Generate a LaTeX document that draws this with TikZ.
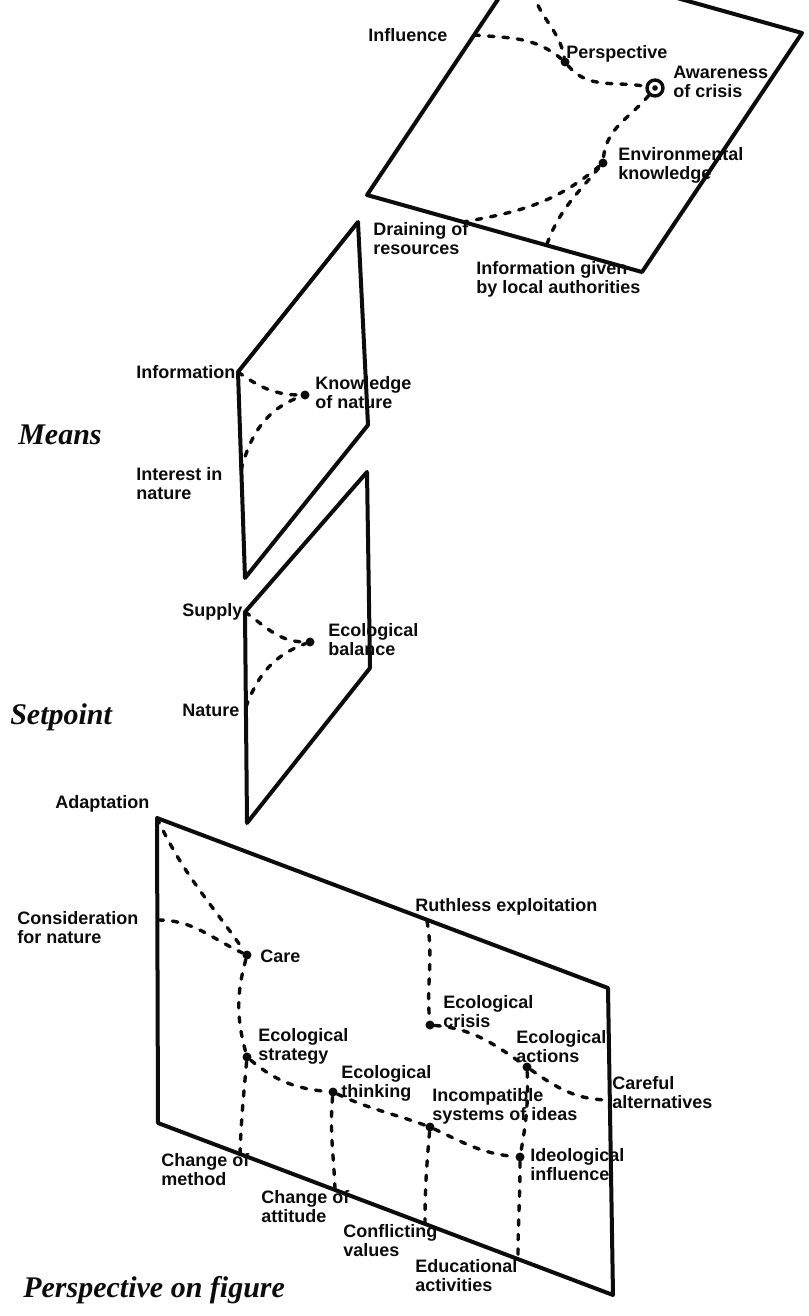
\documentclass[tikz,border=0pt]{standalone}
\usepackage{fontspec}
\setmainfont{Liberation Sans}
\newfontfamily\headfont{Liberation Serif}
\usepackage{tikz}
\definecolor{ink}{RGB}{12,12,12}

\begin{document}
\begin{tikzpicture}[x=1pt,y=-1pt,semithick]
    \tikzstyle{plane}=[draw=ink,line width=4pt,line join=round]
    \tikzstyle{link}=[draw=ink,line width=3.4pt,line cap=round,dash pattern=on 5.5pt off 9pt]
    \tikzstyle{factor}=[circle,fill=ink,inner sep=0pt,minimum size=9pt]
    \tikzstyle{ring}=[circle,draw=ink,line width=3.4pt,inner sep=0pt,minimum size=16pt]
    \tikzstyle{lbl}=[anchor=west,inner sep=0pt,align=left,text=ink,font=\fontsize{18}{19}\selectfont\bfseries]
    \tikzstyle{heading}=[anchor=west,inner sep=0pt,text=ink,font=\fontsize{30}{32}\selectfont\headfont\bfseries\itshape]

    \useasboundingbox (0,0) rectangle (808,1316);

    % top plane, cut off by the page edge
    \begin{scope}
    \clip (0,0) rectangle (808,1316);
    \draw[plane] (527,-44) -- (802,33) -- (642,272) -- (367,195) -- cycle;

    \coordinate (topend) at (533,-8);
    \coordinate (infl)   at (474,35);
    \coordinate (drain)  at (463,222);
    \coordinate (infog)  at (547,244);
    \node[factor] (persp) at (565,62)  {};
    \node[ring]   (aware) at (655,88)  {};
    \node[factor] (envk)  at (603,163) {};
    \fill[ink] (aware) circle (2.8);

    \path[link]
     (topend) edge[out=-75,in=100] (persp)
     (infl)   edge[out=-5,in=140]  (persp)
     (persp)  edge[out=-50,in=170] (aware)
     (aware)  edge[out=-130,in=85] (envk)
     (envk)   edge[out=-140,in=10] (drain)
     (infog)  edge[out=70,in=-130] (envk);
    \end{scope}

    \node[lbl] (inflL)  at (368,35)  {Influence};
    \node[lbl] (perspL) at (566,54)  {Perspective};
    \node[lbl] (awareL) at (673,82)  {Awareness\\of crisis};
    \node[lbl] (envkL)  at (618,165) {Environmental\\knowledge};
    \node[lbl] (drainL) at (373,239) {Draining of\\resources};
    \node[lbl] (infogL) at (476,279) {Information given\\by local authorities};

    % means plane
    \draw[plane] (238,372) -- (358,222) -- (368,425) -- (245,578) -- cycle;
    \coordinate (info)  at (238,372);
    \coordinate (inter) at (241,470);
    \node[factor] (know) at (305,395) {};
    \path[link]
     (info)  edge[out=-35,in=180] (know)
     (inter) edge[out=75,in=-160] (know);

    \node[lbl] (infoL)  at (136,372) {Information};
    \node[lbl] (knowL)  at (315,393) {Knowledge\\of nature};
    \node[lbl] (interL) at (136,484) {Interest in\\nature};
    \node[heading] (means) at (18,435) {Means};

    % setpoint plane
    \draw[plane] (245,612) -- (367,472) -- (370,668) -- (247,823) -- cycle;
    \coordinate (supply) at (245,612);
    \coordinate (natur)  at (246,707);
    \node[factor] (bal) at (310,642) {};
    \path[link]
     (supply) edge[out=-35,in=180] (bal)
     (natur)  edge[out=70,in=-160] (bal);

    \node[lbl] (supplyL) at (182,612) {Supply};
    \node[lbl] (balL)    at (328,640) {Ecological\\balance};
    \node[lbl] (naturL)  at (182,710) {Nature};
    \node[heading] (setp) at (10,717) {Setpoint};

    % perspective plane
    \draw[plane] (157,818) -- (608,988) -- (613,1295) -- (158,1123) -- cycle;
    \coordinate (adapt)   at (157,818);
    \coordinate (consid)  at (158,920);
    \coordinate (ruth)    at (427,921);
    \coordinate (careful) at (610,1100);
    \coordinate (method)  at (240,1154);
    \coordinate (attit)   at (335,1190);
    \coordinate (confl)   at (425,1224);
    \coordinate (educ)    at (518,1259);
    \node[factor] (care)    at (247,955)  {};
    \node[factor] (strat)   at (247,1057) {};
    \node[factor] (think)   at (333,1092) {};
    \node[factor] (incomp)  at (430,1127) {};
    \node[factor] (ideo)    at (520,1157) {};
    \node[factor] (crisis)  at (430,1025) {};
    \node[factor] (actions) at (527,1067) {};

    \path[link]
     (adapt)   edge[out=-65,in=125]  (care)
     (consid)  edge[out=0,in=155]    (care)
     (care)    edge[out=-105,in=105] (strat)
     (strat)   edge[out=-95,in=88]   (method)
     (strat)   edge[out=-40,in=175]  (think)
     (think)   edge[out=-25,in=160]  (incomp)
     (think)   edge[out=-95,in=92]   (attit)
     (incomp)  edge[out=-95,in=90]   (confl)
     (incomp)  edge[out=-25,in=175]  (ideo)
     (ideo)    edge[out=-90,in=90]   (educ)
     (ruth)    edge[out=-80,in=95]   (crisis)
     (crisis)  edge[out=-5,in=145]   (actions)
     (actions) edge[out=-35,in=180]  (careful)
     (actions) edge[out=-88,in=80]   (ideo);

    \node[lbl] (adaptL)   at (55,804)   {Adaptation};
    \node[lbl] (considL)  at (17,928)   {Consideration\\for nature};
    \node[lbl] (careL)    at (260,956)  {Care};
    \node[lbl] (stratL)   at (258,1046) {Ecological\\strategy};
    \node[lbl] (thinkL)   at (341,1083) {Ecological\\thinking};
    \node[lbl] (incompL)  at (432,1106) {Incompatible\\systems of ideas};
    \node[lbl] (crisisL)  at (443,1012) {Ecological\\crisis};
    \node[lbl] (actionsL) at (516,1047) {Ecological\\actions};
    \node[lbl] (carefulL) at (612,1093) {Careful\\alternatives};
    \node[lbl] (ideoL)    at (530,1165) {Ideological\\influence};
    \node[lbl] (ruthL)    at (415,907)  {Ruthless exploitation};
    \node[lbl] (methodL)  at (161,1170) {Change of\\method};
    \node[lbl] (attitL)   at (261,1207) {Change of\\attitude};
    \node[lbl] (conflL)   at (343,1241) {Conflicting\\values};
    \node[lbl] (educL)    at (415,1276) {Educational\\activities};
    \node[heading] (pof)  at (23,1290) {Perspective on figure};
\end{tikzpicture}
\end{document}
